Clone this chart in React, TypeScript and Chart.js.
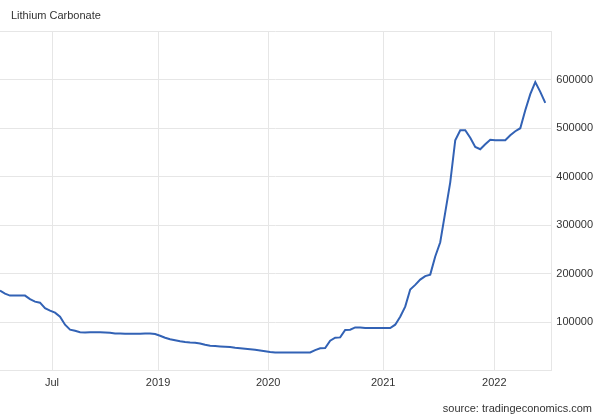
import React, { useEffect, useRef } from "react";
import { Chart, registerables } from "chart.js";

Chart.register(...registerables);

// Lithium carbonate price (CNY/T), samples evenly spaced along the chart's x axis
const prices: number[] = [
  165200, 159000, 154900, 154900, 154900, 154900, 147600, 142500, 140400, 129000,
  123900, 119800, 111500, 95000, 84700, 82600, 79500, 79100, 79500, 79500,
  79500, 79100, 78500, 77000, 77000, 76400, 76400, 76400, 76400, 76800,
  77000, 75800, 72300, 68100, 65000, 63000, 60900, 59300, 58400, 57800,
  56400, 53700, 51600, 51000, 50200, 49600, 48900, 47500, 46500, 45400,
  44400, 43400, 41900, 40300, 38800, 37800, 37800, 37800, 37800, 37800,
  37800, 37800, 37800, 42700, 46500, 46900, 62000, 68100, 68800, 84000,
  84700, 89400, 89400, 88200, 88200, 88200, 88200, 88200, 88200, 95000,
  111500, 132200, 167300, 177000, 187900, 195100, 198200, 235400, 264900, 326300,
  388200, 475000, 495600, 495600, 480100, 461100, 456400, 466700, 476000, 475000,
  475000, 475000, 485300, 493500, 499700, 536900, 569900, 594700, 574700, 552000,
];

// x-axis tick labels and their positions (in sample-index units)
const xTickLabels: string[] = ["Jul", "2019", "2020", "2021", "2022"];
const xTickPositions: number[] = [10.4, 31.6, 53.6, 76.6, 98.8];
const xMax = 110.2;

// y-axis
const yMin = 0;
const yMax = 700000;
const yStep = 100000;

const titleText = "Lithium Carbonate";
const sourceText = "source: tradingeconomics.com";

const FONT = "'Liberation Sans', Arial, sans-serif";
const TEXT_COLOR = "#333333";
const GRID_COLOR = "#e6e6e6";
const LINE_COLOR = "#3262b5";

export default function App() {
  const canvasRef = useRef<HTMLCanvasElement | null>(null);

  useEffect(() => {
    document.body.style.margin = "0";
    const canvas = canvasRef.current;
    if (!canvas) return;

    const textPlugin = {
      id: "textPlugin",
      afterDraw(chart: any) {
        const ctx = chart.ctx;
        ctx.save();
        ctx.fillStyle = TEXT_COLOR;
        ctx.font = `11px ${FONT}`;
        ctx.textBaseline = "middle";
        ctx.textAlign = "left";
        ctx.fillText(titleText, 11, 16);
        ctx.textAlign = "right";
        ctx.fillText(sourceText, 592, 409);
        ctx.restore();
      },
    };

    const chart = new Chart(canvas, {
      type: "line",
      data: {
        datasets: [
          {
            data: prices.map((v, i) => ({ x: i, y: v })),
            borderColor: LINE_COLOR,
            borderWidth: 2,
            pointRadius: 0,
            tension: 0,
            fill: false,
          },
        ],
      },
      options: {
        responsive: false,
        animation: false,
        events: [],
        layout: { padding: { top: 31, right: 2, bottom: 20, left: 0 } },
        plugins: {
          legend: { display: false },
          title: { display: false },
          tooltip: { enabled: false },
        },
        scales: {
          x: {
            type: "linear",
            min: 0,
            max: xMax,
            afterBuildTicks: (scale: any) => {
              scale.ticks = xTickPositions.map((v) => ({ value: v }));
            },
            grid: { color: GRID_COLOR, drawTicks: false },
            border: { display: true, color: GRID_COLOR },
            ticks: {
              autoSkip: false,
              maxRotation: 0,
              padding: 6,
              color: TEXT_COLOR,
              font: { family: FONT, size: 11 },
              callback: (_v: any, i: number) => xTickLabels[i],
            },
          },
          y: {
            type: "linear",
            position: "right",
            min: yMin,
            max: yMax,
            grid: { color: GRID_COLOR, drawTicks: false },
            border: { display: true, color: GRID_COLOR },
            ticks: {
              stepSize: yStep,
              padding: 5,
              color: TEXT_COLOR,
              font: { family: FONT, size: 11 },
              callback: (v: any) =>
                v === yMin || v === yMax ? "" : String(v),
            },
          },
        },
      },
      plugins: [textPlugin],
    } as any);

    return () => chart.destroy();
  }, []);

  return (
    <div style={{ width: 600, height: 416, background: "#fff" }}>
      <canvas ref={canvasRef} width={600} height={416} style={{ display: "block" }} />
    </div>
  );
}
